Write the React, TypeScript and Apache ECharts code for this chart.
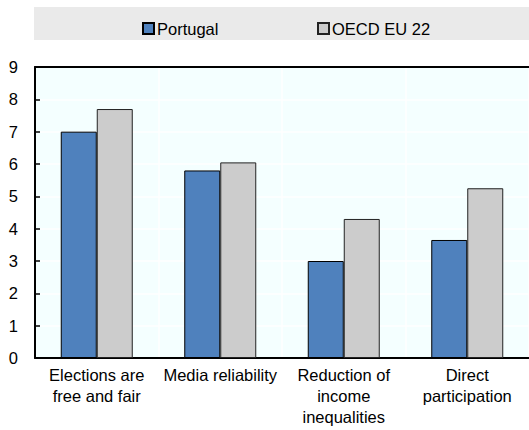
import React, { useEffect, useRef } from "react";
import * as echarts from "echarts";

const categories = [
  "Elections are\nfree and fair",
  "Media reliability",
  "Reduction of\nincome\ninequalities",
  "Direct\nparticipation",
];
const portugal = [7.0, 5.8, 3.0, 3.65];
const oecdEu22 = [7.7, 6.05, 4.3, 5.25];
const yTicks = { min: 0, max: 9, interval: 1 };

const FONT = "'Liberation Sans', Arial, sans-serif";
const BLUE = "#4f81bd";
const GREY = "#cccccc";

export default function App() {
  const ref = useRef<HTMLDivElement>(null);

  useEffect(() => {
    if (!ref.current) return;
    const chart = echarts.init(ref.current, null, { renderer: "svg" });
    const textStyle = { fontFamily: FONT, fontSize: 16.5, color: "#000" };

    chart.setOption({
      animation: false,
      backgroundColor: "#ffffff",
      textStyle,
      graphic: [
        {
          type: "rect",
          shape: { x: 34, y: 7, width: 495, height: 33 },
          style: { fill: "#eaeaea" },
          z: -10,
        },
      ],
      legend: [
        {
          data: ["Portugal"],
          left: 137,
          top: 15,
          itemWidth: 11,
          itemHeight: 11,
          icon: "rect",
          textStyle: { ...textStyle, padding: [0, 0, 0, -2] },
        },
        {
          data: ["OECD EU 22"],
          left: 312,
          top: 15,
          itemWidth: 11,
          itemHeight: 11,
          icon: "rect",
          textStyle: { ...textStyle, padding: [0, 0, 0, -2] },
        },
      ],
      grid: {
        left: 35,
        right: 0,
        top: 67,
        bottom: 72,
        show: true,
        backgroundColor: "#f4ffff",
        borderWidth: 0,
      },
      xAxis: [
        {
          type: "category",
          data: categories,
          boundaryGap: true,
          axisLine: { lineStyle: { color: "#000", width: 2 } },
          axisTick: { inside: true, length: 5, lineStyle: { color: "#000", width: 1.5 } },
          splitLine: { show: true, lineStyle: { color: "#ffffff", width: 1.5 } },
          axisLabel: {
            ...textStyle,
            interval: 0,
            margin: 6,
            lineHeight: 21,
            align: "center",
          },
        },
        {
          type: "category",
          position: "top",
          data: categories,
          axisLine: { lineStyle: { color: "#000", width: 2 } },
          axisTick: { show: false },
          axisLabel: { show: false },
          splitLine: { show: false },
        },
      ],
      yAxis: {
        type: "value",
        min: yTicks.min,
        max: yTicks.max,
        interval: yTicks.interval,
        axisLine: { show: true, lineStyle: { color: "#000", width: 2 } },
        axisTick: { show: true, inside: true, length: 5, lineStyle: { color: "#000", width: 1.5 } },
        splitLine: { show: true, lineStyle: { color: "#ffffff", width: 1.5 } },
        axisLabel: { ...textStyle, margin: 17 },
      },
      series: [
        {
          name: "Portugal",
          type: "bar",
          data: portugal,
          barWidth: 36,
          barGap: "0%",
          itemStyle: { color: BLUE, borderColor: "#000", borderWidth: 1 },
        },
        {
          name: "OECD EU 22",
          type: "bar",
          data: oecdEu22,
          barWidth: 36,
          barGap: "0%",
          itemStyle: { color: GREY, borderColor: "#222", borderWidth: 1 },
        },
      ],
    });

    return () => chart.dispose();
  }, []);

  return (
    <div
      ref={ref}
      style={{ position: "fixed", left: 0, top: 0, width: 529, height: 430 }}
    />
  );
}
